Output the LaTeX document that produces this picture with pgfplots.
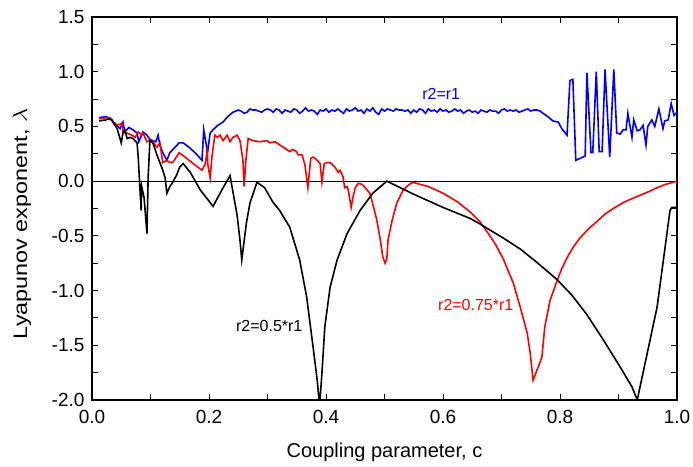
\documentclass[border=0pt]{standalone}
\usepackage{graphicx}
\usepackage{pgfplots}
\pgfplotsset{compat=1.18}
\usepackage{fontspec}
\setmainfont{Liberation Sans}
\begin{document}
\begin{tikzpicture}
\begin{axis}[
 name=ax,
 scale only axis,
 width=585pt, height=383pt,
 xmin=0, xmax=1, ymin=-2, ymax=1.5,
 xtick={0,0.2,0.4,0.6,0.8,1.0}, minor xtick={0.1,0.3,0.5,0.7,0.9},
 ytick={-2,-1.5,-1,-0.5,0,0.5,1,1.5}, minor ytick={-1.75,-1.25,-0.75,-0.25,0.25,0.75,1.25},
 tick align=inside,
 major tick length=6pt, minor tick length=6pt,
 every tick/.style={black, line width=1pt},
 axis line style={line width=1.3pt},
 /pgf/number format/assume math mode=true,
 xticklabel style={/pgf/number format/.cd, fixed, fixed zerofill, precision=1, /tikz/.cd, yshift=-7pt},
 yticklabel style={/pgf/number format/.cd, fixed, fixed zerofill, precision=1, /tikz/.cd, xshift=-4pt},
 tick label style={font=\fontsize{19}{21}\selectfont},
 xlabel={Coupling parameter, c},
 xlabel style={font=\fontsize{20}{22}\selectfont, at={(axis description cs:0.5,0)}, anchor=center, yshift=-52pt},
 ylabel={\scalebox{1.2}[1]{Lyapunov exponent, $\lambda$}},
 ylabel style={font=\fontsize{19.5}{22}\selectfont, at={(axis description cs:-0.1197,0.46)}, anchor=center},
 clip=true,
]
\addplot[black, line width=0.8pt] coordinates {(0,0) (1,0)};
% blue r2=r1
\addplot[blue, line width=1.6pt] coordinates {
(0.012,0.58) (0.024,0.59) (0.031,0.57) (0.039,0.53) (0.048,0.48) (0.053,0.54) (0.056,0.45) (0.063,0.49) (0.070,0.47) (0.077,0.44) (0.080,0.36) (0.087,0.45) (0.094,0.42) (0.099,0.38) (0.104,0.37) (0.109,0.36) (0.113,0.42) (0.116,0.33) (0.121,0.26) (0.128,0.19) (0.133,0.26) (0.142,0.31) (0.149,0.35) (0.156,0.35) (0.168,0.30) (0.178,0.25) (0.188,0.19) (0.191,0.47) (0.196,0.31) (0.197,0.24) (0.202,0.44) (0.207,0.47) (0.215,0.51) (0.224,0.54) (0.232,0.59) (0.241,0.63) (0.250,0.65)
(0.255,0.64) (0.260,0.62) (0.265,0.63) (0.270,0.66) (0.275,0.65) (0.280,0.65) (0.285,0.64) (0.290,0.63) (0.295,0.65) (0.300,0.66) (0.305,0.65) (0.310,0.63) (0.315,0.66) (0.320,0.65) (0.325,0.62) (0.330,0.65) (0.335,0.64) (0.340,0.63) (0.345,0.66) (0.350,0.65) (0.355,0.62) (0.360,0.64) (0.365,0.67) (0.370,0.64) (0.375,0.65) (0.380,0.64) (0.385,0.61) (0.390,0.65) (0.395,0.64) (0.400,0.66) (0.405,0.63) (0.410,0.65) (0.415,0.64) (0.420,0.66) (0.425,0.64) (0.430,0.62) (0.435,0.66) (0.440,0.64) (0.445,0.65) (0.450,0.67) (0.455,0.64) (0.460,0.65) (0.465,0.62) (0.470,0.66) (0.475,0.64) (0.480,0.67) (0.485,0.63) (0.490,0.61) (0.495,0.66) (0.500,0.64) (0.505,0.66) (0.510,0.65) (0.515,0.64) (0.520,0.66) (0.525,0.65) (0.530,0.65) (0.535,0.64) (0.540,0.65) (0.545,0.62) (0.550,0.65) (0.555,0.63) (0.560,0.66) (0.565,0.65) (0.570,0.62) (0.575,0.66) (0.580,0.64) (0.585,0.65) (0.590,0.63) (0.595,0.66) (0.600,0.64) (0.605,0.65) (0.610,0.63) (0.615,0.64) (0.620,0.66) (0.625,0.64) (0.630,0.65) (0.635,0.62) (0.640,0.64) (0.645,0.65) (0.650,0.63) (0.655,0.64) (0.660,0.62) (0.665,0.65) (0.670,0.64) (0.675,0.63) (0.680,0.65) (0.685,0.64) (0.690,0.64) (0.695,0.62) (0.700,0.65) (0.705,0.66) (0.710,0.64) (0.715,0.65) (0.720,0.64) (0.725,0.65) (0.730,0.63) (0.735,0.64) (0.740,0.65) (0.745,0.66) (0.750,0.64) (0.755,0.65) (0.761,0.65) (0.766,0.64) (0.771,0.62) (0.779,0.59) (0.788,0.55) (0.797,0.54) (0.803,0.48) (0.812,0.42)
(0.817,0.92) (0.822,0.93) (0.827,0.19) (0.843,0.23) (0.846,0.99) (0.853,0.26) (0.856,0.26) (0.862,1.00) (0.867,0.27) (0.872,0.27) (0.877,1.02) (0.885,0.22) (0.892,1.02) (0.897,0.44) (0.903,0.43) (0.908,0.47) (0.913,0.47) (0.916,0.62) (0.923,0.40) (0.926,0.56) (0.932,0.46) (0.937,0.47) (0.942,0.51) (0.947,0.33) (0.950,0.50) (0.957,0.56) (0.962,0.50) (0.969,0.66) (0.976,0.48) (0.979,0.55) (0.985,0.56) (0.990,0.71) (0.995,0.60) (1.000,0.63)
};
% red r2=0.75*r1
\addplot[red, line width=1.6pt] coordinates {
(0.012,0.57) (0.024,0.58) (0.031,0.58) (0.039,0.51) (0.048,0.52) (0.051,0.53) (0.053,0.45) (0.060,0.44) (0.068,0.42) (0.074,0.40) (0.079,0.45) (0.085,0.42) (0.087,0.44) (0.094,0.36) (0.099,0.37) (0.104,0.36) (0.111,0.31) (0.116,0.35) (0.121,0.17) (0.128,0.19) (0.133,0.17) (0.138,0.17) (0.149,0.26) (0.159,0.22) (0.173,0.16) (0.188,0.10) (0.193,0.15) (0.197,0.27) (0.198,0.15) (0.202,0.03) (0.205,0.22) (0.210,0.42) (0.214,0.40) (0.219,0.42) (0.224,0.37) (0.231,0.42) (0.236,0.36) (0.241,0.40) (0.248,0.42) (0.253,0.37) (0.258,0.19) (0.260,-0.05) (0.263,0.19) (0.267,0.39) (0.275,0.37) (0.287,0.36) (0.299,0.37) (0.304,0.35) (0.313,0.36) (0.321,0.33) (0.330,0.30) (0.338,0.27) (0.343,0.29) (0.350,0.27) (0.352,0.24) (0.359,0.24) (0.364,0.15) (0.369,-0.06) (0.374,0.21) (0.378,0.22) (0.385,0.19) (0.390,0.16) (0.393,-0.01) (0.397,0.16) (0.402,0.17) (0.407,0.17) (0.415,0.13) (0.421,0.08) (0.424,0.10) (0.429,0.04) (0.432,-0.06) (0.436,-0.05) (0.438,-0.08) (0.443,-0.24) (0.446,-0.15) (0.450,-0.06) (0.455,-0.02) (0.462,-0.03) (0.467,-0.06) (0.475,-0.11) (0.480,-0.21) (0.487,-0.36) (0.492,-0.51) (0.497,-0.69) (0.501,-0.75) (0.504,-0.71) (0.506,-0.54) (0.513,-0.36) (0.521,-0.20) (0.532,-0.08) (0.540,-0.04) (0.548,-0.01) (0.575,-0.05) (0.600,-0.11) (0.625,-0.19) (0.646,-0.28) (0.663,-0.37) (0.675,-0.46) (0.690,-0.58) (0.703,-0.71) (0.720,-0.93) (0.732,-1.15) (0.744,-1.39) (0.749,-1.57) (0.754,-1.82) (0.769,-1.61) (0.774,-1.33) (0.783,-1.09) (0.795,-0.91) (0.803,-0.80) (0.812,-0.70) (0.823,-0.60) (0.834,-0.52) (0.848,-0.44) (0.863,-0.37) (0.877,-0.30) (0.891,-0.25) (0.910,-0.19) (0.932,-0.14) (0.950,-0.10) (0.966,-0.06) (0.980,-0.03) (1.000,0.00)
};
% black r2=0.5*r1
\addplot[black, line width=1.6pt] coordinates {
(0.012,0.55) (0.024,0.56) (0.027,0.57) (0.034,0.56) (0.043,0.48) (0.050,0.35) (0.053,0.44) (0.056,0.47) (0.060,0.39) (0.065,0.40) (0.070,0.39) (0.077,0.35) (0.079,0.22) (0.084,-0.27) (0.085,-0.05) (0.089,-0.15) (0.094,-0.48) (0.096,0.04) (0.099,0.37) (0.104,0.35) (0.111,0.24) (0.116,0.17) (0.121,0.10) (0.125,0.03) (0.128,-0.11) (0.133,-0.05) (0.138,-0.01) (0.145,0.06) (0.150,0.13) (0.156,0.16) (0.168,0.08) (0.185,-0.08) (0.207,-0.23) (0.222,-0.08) (0.236,0.05) (0.240,-0.07) (0.248,-0.31) (0.253,-0.54) (0.256,-0.72) (0.264,-0.38) (0.270,-0.20) (0.282,-0.01) (0.295,-0.06) (0.309,-0.19) (0.321,-0.27) (0.338,-0.42) (0.355,-0.72) (0.367,-1.06) (0.378,-1.52) (0.385,-1.82) (0.389,-2.05) (0.393,-1.76) (0.398,-1.33) (0.407,-0.97) (0.419,-0.72) (0.436,-0.48) (0.458,-0.27) (0.480,-0.11) (0.504,0.00) (0.550,-0.12) (0.600,-0.24) (0.646,-0.34) (0.663,-0.39) (0.675,-0.43) (0.703,-0.52) (0.732,-0.62) (0.760,-0.74) (0.795,-0.90) (0.820,-1.04) (0.846,-1.22) (0.874,-1.45) (0.903,-1.70) (0.923,-1.88) (0.932,-2.0) (0.966,-1.15) (0.988,-0.27) (0.991,-0.24) (1.000,-0.24)
};
\node[blue, font=\fontsize{16}{18}\selectfont] at (axis cs:0.597,0.80) {r2=r1};
\node[red, font=\fontsize{16}{18}\selectfont] at (axis cs:0.656,-1.13) {r2=0.75*r1};
\node[black, font=\fontsize{16}{18}\selectfont] at (axis cs:0.303,-1.32) {r2=0.5*r1};
\end{axis}
\pgfresetboundingbox
\useasboundingbox ([xshift=-92pt,yshift=-66pt]ax.south west) rectangle ([xshift=16pt,yshift=17pt]ax.north east);
\end{tikzpicture}
\end{document}
